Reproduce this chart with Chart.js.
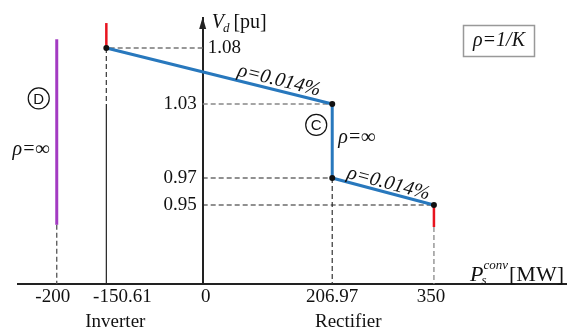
<!DOCTYPE html>
<html><head><meta charset="utf-8">
<script src="https://cdn.jsdelivr.net/npm/chart.js@4/dist/chart.umd.min.js"></script>
<style>html,body{margin:0;padding:0;background:#fff}#wrap{position:relative;width:570px;height:334px}</style>
</head><body><div id="wrap"><canvas id="c" width="570" height="334"></canvas></div>
<script>
// ---- data ----
const xTickValues = [-200, -150.61, 0, 206.97, 350];
const xTickLabels = ['-200', '-150.61', '0', '206.97', '350'];
const xSubLabels = ['', 'Inverter', '', 'Rectifier', ''];
const yTickValues = [1.08, 1.03, 0.97, 0.95];
const yTickLabels = ['1.08', '1.03', '0.97', '0.95'];
const droopP = [-150.61, 206.97, 206.97, 350];      // MW
const droopV = [1.08, 1.03, 0.97, 0.95];            // pu
const inverterLimitP = [-150.61, -150.61];
const inverterLimitV = [1.08, 1.10];
const rectifierLimitP = [350, 350];
const rectifierLimitV = [0.95, 0.93];
const modeDP = [-200, -200];
const modeDV = [0.932, 1.087];
const axisP = [-238.5, 535.6];   // P range of the drawn axis
const axisV = [0.88, 1.105];     // V range of the drawn axis

// ---- schematic (broken) axis: piecewise linear mapping value -> fraction of axis ----
const BREAKS = {
  x: { v: [-238.5, -200, -150.61, 0, 206.97, 350, 535.6], f: [0, 0.0707, 0.1612, 0.337, 0.5734, 0.759, 1] },
  y: { v: [0.88, 0.93, 0.95, 0.97, 1.03, 1.08, 1.10, 1.105], f: [0, 0.2143, 0.297, 0.3985, 0.6767, 0.8872, 0.981, 1] }
};
// label placement tweaks (pixels) to follow the reference's typesetting
const xLabelShift = [-4, 16, 3, 0, -3];
const xSubShift = [0, 9, 0, 16, 0];

const Linear = Chart.LinearScale || Chart.registry.getScale('linear');
function interp(xs, ys, t) {
  let i = 0;
  while (i < xs.length - 2 && t > xs[i + 1]) i++;
  return ys[i] + (ys[i + 1] - ys[i]) * (t - xs[i]) / (xs[i + 1] - xs[i]);
}
class BrokenScale extends Linear {
  getPixelForValue(v) { const b = BREAKS[this.id]; return this.getPixelForDecimal(interp(b.v, b.f, v)); }
  getValueForPixel(p) { const b = BREAKS[this.id]; return interp(b.f, b.v, this.getDecimalForPixel(p)); }
}
BrokenScale.id = 'broken';
BrokenScale.defaults = Linear.defaults;
Chart.register(BrokenScale);

const pts = (ps, vs) => ps.map((p, i) => ({ x: p, y: vs[i] }));
const SERIF = '"Liberation Serif","Times New Roman",serif';

function line(data, color, width, dash) {
  return { type: 'line', data, borderColor: color, borderWidth: width, borderDash: dash || [],
    pointRadius: 0, tension: 0, fill: false, clip: false };
}

const datasets = [
  { type: 'line', data: pts(droopP, droopV), showLine: false, pointRadius: 3, pointBackgroundColor: '#111',
    pointBorderWidth: 0, clip: false },
  line(pts(droopP, droopV), '#2878bd', 3),
  line(pts(inverterLimitP, inverterLimitV), '#e8141f', 2.5),
  line(pts(rectifierLimitP, rectifierLimitV), '#e8141f', 2.5),
  line(pts(modeDP, modeDV), '#a33bc2', 3),
  // guide lines
  line(pts([0, droopP[0]], [droopV[0], droopV[0]]), '#777', 1.3, [5, 3]),
  line(pts([droopP[0], droopP[0]], [droopV[0], droopV[1]]), '#444', 1.3, [5, 3]),
  line(pts([droopP[0], droopP[0]], [droopV[1], axisV[0]]), '#222', 1.2),
  line(pts([0, droopP[1]], [droopV[1], droopV[1]]), '#888', 1.3, [5, 3]),
  line(pts([0, droopP[2]], [droopV[2], droopV[2]]), '#222', 1.2, [5, 3]),
  line(pts([0, droopP[3]], [droopV[3], droopV[3]]), '#222', 1.2, [5, 3]),
  line(pts([droopP[2], droopP[2]], [droopV[2], axisV[0]]), '#333', 1.2, [5, 3]),
  line(pts([rectifierLimitP[1], rectifierLimitP[1]], [rectifierLimitV[1], axisV[0]]), '#888', 1.3, [5, 3]),
  line(pts([modeDP[0], modeDP[0]], [modeDV[0], axisV[0]]), '#555', 1.3, [5, 3])
];

const annot = {
  id: 'annot',
  afterDatasetsDraw(chart) {
    const { ctx, chartArea: ca, scales: { x, y } } = chart;
    const X = v => x.getPixelForValue(v), Y = v => y.getPixelForValue(v);
    const ax = X(0);
    ctx.save();
    // arrow head on V axis
    ctx.fillStyle = '#222';
    ctx.beginPath(); ctx.moveTo(ax, ca.top - 1); ctx.lineTo(ax - 3.5, ca.top + 11); ctx.lineTo(ax + 3.5, ca.top + 11); ctx.closePath(); ctx.fill();
    // V tick labels
    ctx.fillStyle = '#111'; ctx.font = '19px ' + SERIF; ctx.textBaseline = 'middle';
    yTickValues.forEach((v, i) => {
      if (i === 0) { ctx.textAlign = 'left'; ctx.fillText(yTickLabels[i], ax + 5, Y(v)); }
      else { ctx.textAlign = 'right'; ctx.fillText(yTickLabels[i], ax - 6, Y(v)); }
    });
    // P tick labels (two lines)
    ctx.textAlign = 'center';
    xTickValues.forEach((v, i) => {
      ctx.fillText(xTickLabels[i], X(v) + xLabelShift[i], ca.bottom + 13);
      if (xSubLabels[i]) ctx.fillText(xSubLabels[i], X(v) + xSubShift[i], ca.bottom + 38);
    });
    // V axis title: V_d [pu]
    ctx.textAlign = 'left'; ctx.textBaseline = 'alphabetic';
    let tx = ax + 9, by = ca.top + 10;
    ctx.font = 'italic 20px ' + SERIF; ctx.fillText('V', tx, by); tx += ctx.measureText('V').width - 1;
    ctx.font = 'italic 13px ' + SERIF; ctx.fillText('d', tx, by + 4); tx += ctx.measureText('d').width + 4;
    ctx.font = '20px ' + SERIF; ctx.fillText('[pu]', tx, by);
    // P axis title: P_s^conv [MW]
    by = ca.bottom - 3;
    ctx.font = '22px ' + SERIF; const mw = ctx.measureText('[MW]').width;
    ctx.font = 'italic 13px ' + SERIF; const cw = ctx.measureText('conv').width;
    ctx.font = 'italic 22px ' + SERIF; const pw = ctx.measureText('P').width;
    let px = ca.right - 3 - mw - cw - pw;
    ctx.fillText('P', px, by); px += pw;
    ctx.font = 'italic 13px ' + SERIF; ctx.fillText('conv', px, by - 12); ctx.fillText('s', px - 2, by + 3);
    px += cw + 1;
    ctx.font = '22px ' + SERIF; ctx.fillText('[MW]', px, by);
    // slope labels
    function slopeLabel(p0, v0, p1, v1, t, off, text) {
      const x0 = X(p0), y0 = Y(v0), x1 = X(p1), y1 = Y(v1);
      const a = Math.atan2(y1 - y0, x1 - x0);
      const cx = x0 + (x1 - x0) * t + Math.sin(a) * off, cy = y0 + (y1 - y0) * t - Math.cos(a) * off;
      ctx.save(); ctx.translate(cx, cy); ctx.rotate(a);
      ctx.font = 'italic 20px ' + SERIF; ctx.textAlign = 'center'; ctx.textBaseline = 'middle';
      ctx.fillText(text, 0, 0); ctx.restore();
    }
    slopeLabel(droopP[0], droopV[0], droopP[1], droopV[1], 0.754, 10, 'ρ=0.014%');
    slopeLabel(droopP[2], droopV[2], droopP[3], droopV[3], 0.53, 9, 'ρ=0.014%');
    // rho = infinity labels
    ctx.font = 'italic 20px ' + SERIF; ctx.textAlign = 'left'; ctx.textBaseline = 'middle';
    ctx.fillText('ρ=∞', X(droopP[1]) + 6, Y(1.003));
    ctx.textAlign = 'right';
    ctx.fillText('ρ=∞', X(modeDP[0]) - 7, Y(0.993));
    // circled letters
    function circled(cx, cy, letter) {
      ctx.beginPath(); ctx.arc(cx, cy, 10.5, 0, Math.PI * 2); ctx.lineWidth = 1.2; ctx.strokeStyle = '#111'; ctx.stroke();
      ctx.font = '15px "Liberation Sans",Arial,sans-serif'; ctx.textAlign = 'center'; ctx.textBaseline = 'middle';
      ctx.fillText(letter, cx, cy + 1);
    }
    circled(X(modeDP[0]) - 18, Y(1.035), 'D');
    circled(X(droopP[1]) - 16, Y(1.013), 'C');
    // rho = 1/K box
    ctx.strokeStyle = '#999'; ctx.lineWidth = 1.5;
    ctx.strokeRect(463.5, ca.top + 7.5, 71, 31);
    ctx.font = 'italic 20px ' + SERIF; ctx.textAlign = 'center'; ctx.textBaseline = 'middle';
    ctx.fillText('ρ=1/K', 499, ca.top + 23);
    ctx.restore();
  }
};

new Chart(document.getElementById('c'), {
  type: 'line',
  data: { datasets },
  options: {
    responsive: false, animation: false, devicePixelRatio: 1,
    layout: { padding: { left: 18, right: 0, top: 18, bottom: 0 } },
    plugins: { legend: { display: false }, tooltip: { enabled: false } },
    scales: {
      x: {
        type: 'broken', position: 'bottom', min: axisP[0], max: axisP[1],
        afterBuildTicks: s => { s.ticks = xTickValues.map(v => ({ value: v })); },
        afterFit: s => { s.height = 50; },
        ticks: { display: false },
        grid: { display: false, drawTicks: false },
        border: { display: true, color: '#222', width: 2 }
      },
      y: {
        type: 'broken', position: { x: 0 }, min: axisV[0], max: axisV[1],
        afterBuildTicks: s => { s.ticks = yTickValues.map(v => ({ value: v })); },
        ticks: { display: false },
        grid: { display: false, drawTicks: false },
        border: { display: true, color: '#222', width: 2 }
      }
    }
  },
  plugins: [annot]
});
</script></body></html>
